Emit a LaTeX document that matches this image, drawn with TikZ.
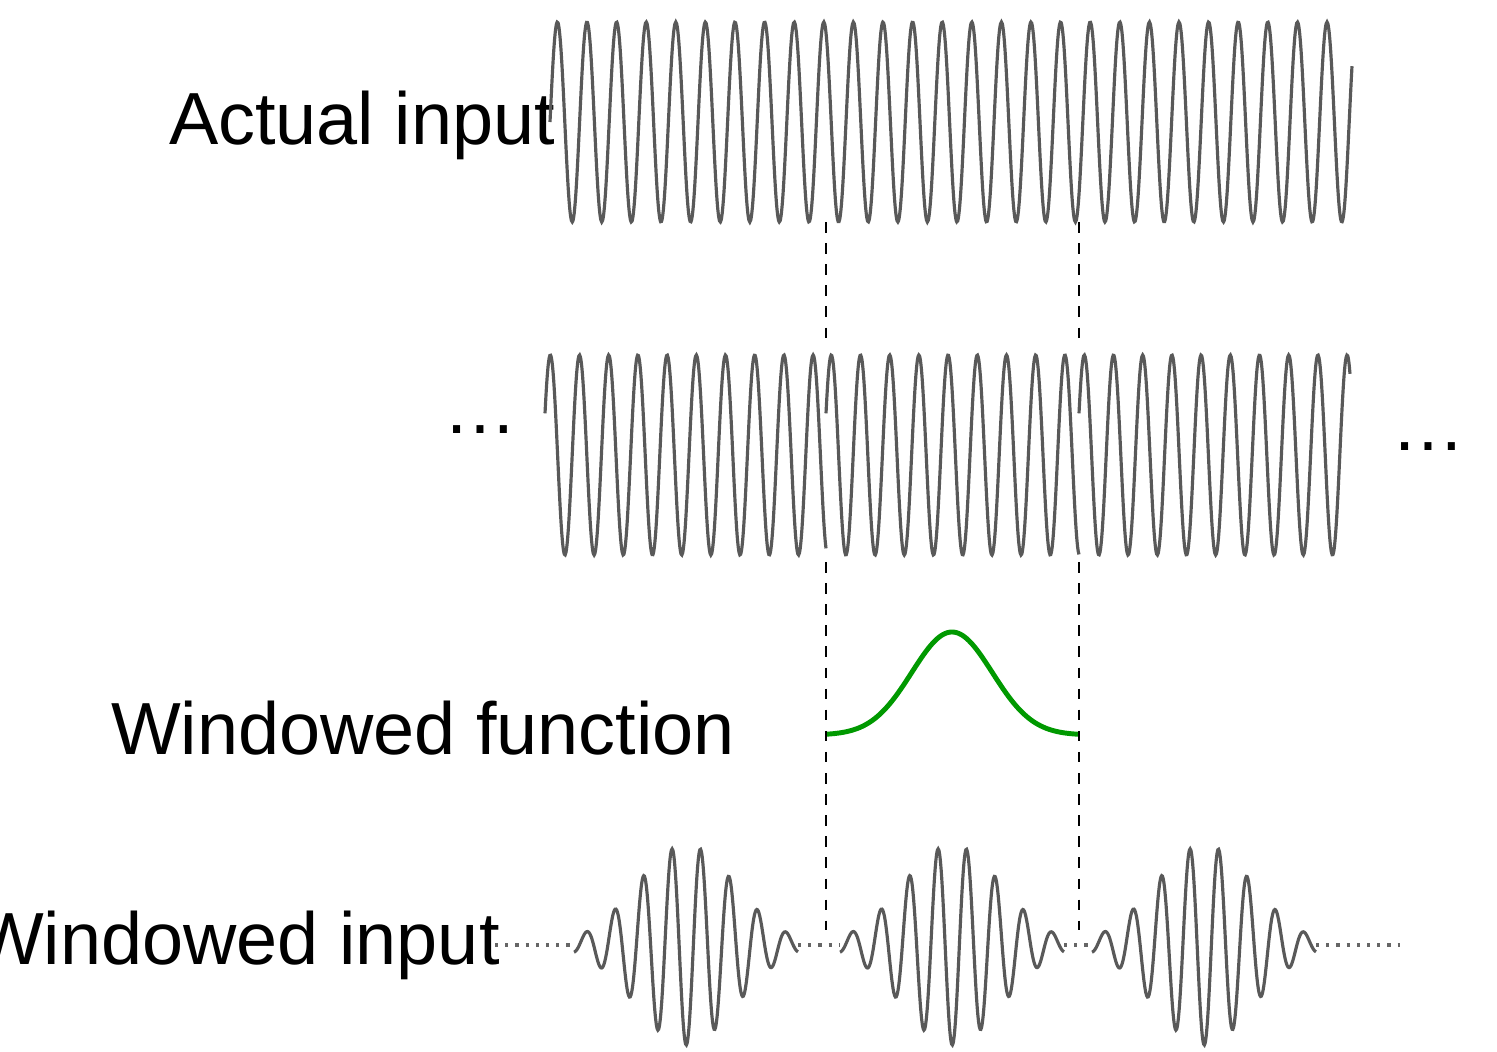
\documentclass[tikz,border=0pt]{standalone}
\usepackage{fontspec}
\setmainfont{Liberation Sans}
\usetikzlibrary{positioning}

\tikzset{
  wave/.style={draw=black!65, line width=0.9pt},
  window/.style={draw=green!60!black, line width=1.4pt},
  guide/.style={draw=black, dashed, line width=0.8pt},
  tail/.style={draw=black!60, dotted, line width=0.9pt},
  label/.style={font=\fontsize{21}{25}\selectfont, inner sep=0pt}
}

\begin{document}
\begin{tikzpicture}[x=0.01cm, y=-0.01cm]
  \useasboundingbox (0,0) rectangle (1497,1051);

  % Beschriftungen
  \node[label] (actual) at (362,125) {Actual input};
  \node[label] (func) at (423,728) {Windowed function};
  \node[label] (winin) at (237,945) {Windowed input};
  \node[label] (dotsl) at (480,430) {\dots};
  \node[label] (dotsr) at (1428,447) {\dots};

  % Signal oben
  \draw[wave] plot[domain=550:1352, samples=900, smooth] (\x, {122 - 100*sin((\x-550)/29.6*360)});

  % periodisch fortgesetztes Fenster
  \foreach \s/\e in {545/826, 826/1079, 1079/1350}
    \draw[wave] plot[domain=\s:\e, samples=350, smooth] (\x, {455 - 100*sin((\x-\s+2)/29.2*360)});

  % Fensterfunktion
  \draw[window] plot[domain=826:1079, samples=120, smooth] (\x, {735 - 103*exp(-((\x-952)/57)^2)});

  % Hilfslinien
  \foreach \g in {826, 1079} {
    \coordinate (a\g) at (\g,222);
    \coordinate (b\g) at (\g,345);
    \coordinate (c\g) at (\g,562);
    \coordinate (d\g) at (\g,930);
    \draw[guide] (a\g) -- (b\g);
    \draw[guide] (c\g) -- (d\g);
  }

  % gefensterte Bursts
  \foreach \c in {686, 952, 1204}
    \draw[wave] plot[domain={\c-112}:{\c+112}, samples=300, smooth] (\x, {945 - 100*exp(-((\x-\c)/70)^2)*cos((\x-\c+14)/28.5*360)});

  \coordinate (t0) at (495,945);
  \coordinate (t1) at (574,945);
  \coordinate (t2) at (798,945);
  \coordinate (t3) at (840,945);
  \coordinate (t4) at (1064,945);
  \coordinate (t5) at (1092,945);
  \coordinate (t6) at (1316,945);
  \coordinate (t7) at (1400,945);
  \draw[tail] (t0) -- (t1);
  \draw[tail] (t2) -- (t3);
  \draw[tail] (t4) -- (t5);
  \draw[tail] (t6) -- (t7);
\end{tikzpicture}
\end{document}
